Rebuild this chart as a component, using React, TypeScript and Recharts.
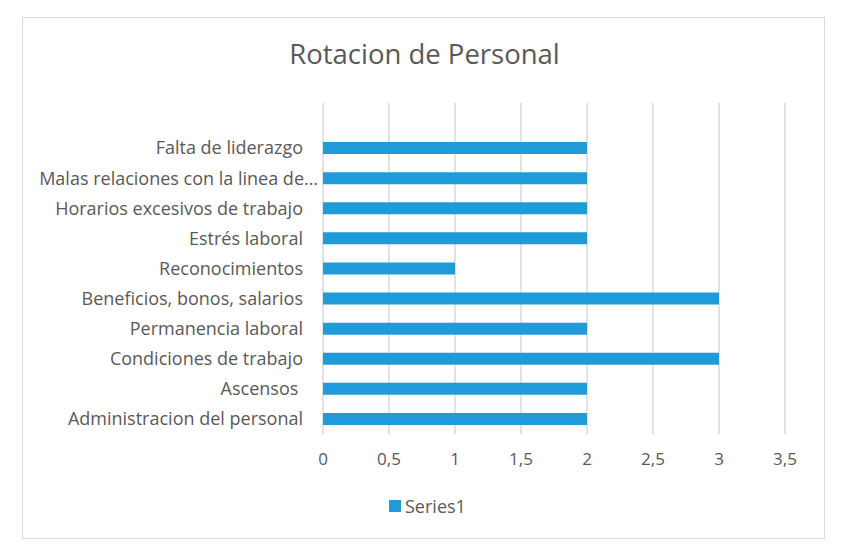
import React from "react";
import { BarChart, Bar, XAxis, YAxis, CartesianGrid } from "recharts";

// categories top to bottom (first one is the empty slot Excel leaves at the top)
const categories = [
  "",
  "Falta de liderazgo",
  "Malas relaciones con la linea de…",
  "Horarios excesivos de trabajo",
  "Estrés laboral",
  "Reconocimientos",
  "Beneficios, bonos, salarios",
  "Permanencia laboral",
  "Condiciones de trabajo",
  "Ascensos ",
  "Administracion del personal",
];
const series1 = [null, 2, 2, 2, 2, 1, 3, 2, 3, 2, 2];
const xTicks = [0, 0.5, 1, 1.5, 2, 2.5, 3, 3.5];

const data = categories.map((name, i) => ({ name, Series1: series1[i] }));

const FONT = "'Open Sans', sans-serif";
const TEXT = "#595959";
const BLUE = "#1F9BDA";

// Excel lets the truncated label run a bit further right than the others
const CategoryTick = (props: any) => {
  const { x, y, payload } = props;
  const label: string = payload.value;
  const shift = label.endsWith("…") ? 15 : 0;
  return (
    <text
      x={x + shift}
      y={y}
      dy="0.35em"
      textAnchor="end"
      fill={TEXT}
      fontSize={18}
      fontFamily={FONT}
      style={{ whiteSpace: "pre" }}
    >
      {label}
    </text>
  );
};

const App: React.FC = () => {
  return (
    <div style={{ position: "absolute", left: 0, top: 0, width: 851, height: 548, background: "#fff", fontFamily: FONT }}>
      <div
        style={{
          position: "absolute",
          left: 22,
          top: 17,
          width: 803,
          height: 522,
          border: "1px solid #d9d9d9",
          boxSizing: "border-box",
        }}
      />
      <div
        style={{
          position: "absolute",
          left: 0,
          width: 849,
          top: 36,
          textAlign: "center",
          fontSize: 27.5,
          color: TEXT,
          lineHeight: "36px",
        }}
      >
        Rotacion de Personal
      </div>
      <div style={{ position: "absolute", left: 0, top: 0 }}>
        <BarChart
          width={851}
          height={548}
          data={data}
          layout="vertical"
          margin={{ top: 103, right: 66, bottom: 84, left: 0 }}
        >
          <CartesianGrid horizontal={false} stroke="#d9d9d9" strokeWidth={1.5} />
          <XAxis
            type="number"
            domain={[0, 3.5]}
            ticks={xTicks}
            axisLine={false}
            tickLine={false}
            tickSize={0}
            tickMargin={19}
            height={30}
            tickFormatter={(v: number) => String(v).replace(".", ",")}
            tick={{ fill: TEXT, fontSize: 17, fontFamily: FONT }}
          />
          <YAxis
            type="category"
            dataKey="name"
            width={323}
            axisLine={false}
            tickLine={false}
            tickSize={0}
            tickMargin={20}
            interval={0}
            tick={<CategoryTick />}
          />
          <Bar dataKey="Series1" fill={BLUE} barSize={12} isAnimationActive={false} />
        </BarChart>
      </div>
      <div
        style={{
          position: "absolute",
          left: 389,
          top: 494,
          display: "flex",
          alignItems: "center",
          fontSize: 18,
          color: TEXT,
        }}
      >
        <span style={{ display: "inline-block", width: 12, height: 12, background: BLUE, marginRight: 4 }} />
        Series1
      </div>
    </div>
  );
};

export default App;
